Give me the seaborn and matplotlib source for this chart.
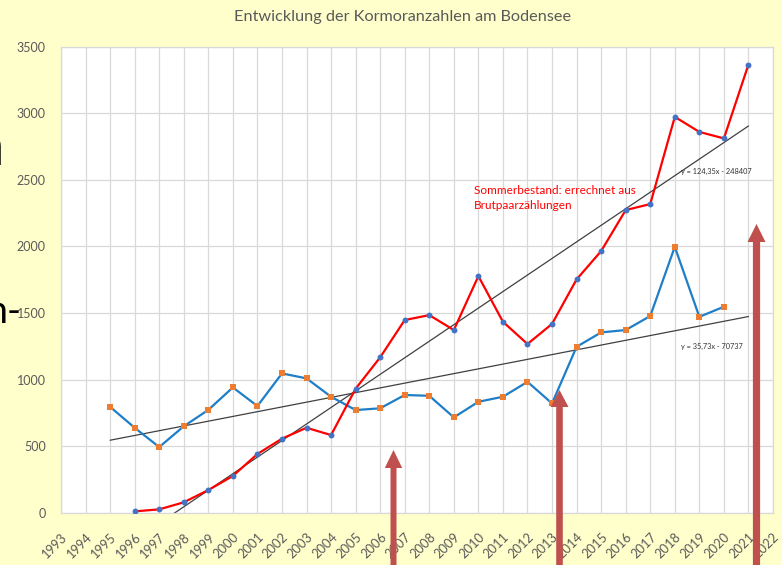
"""
Kormoran counts at Lake Constance (Bodensee), 1995-2021.

Two series (winter count, summer stock from breeding pairs) with
their linear trend lines and three highlight arrows.
"""

import matplotlib.pyplot as plt
import numpy as np
import pandas as pd
import seaborn as sns
from matplotlib.patches import Polygon

# ---------------------------------------------------------------- data
YEARS_AXIS = list(range(1993, 2023))

years_winter = list(range(1995, 2021))
winter = [795, 638, 493, 649, 772, 941, 801, 1046, 1009, 871, 771, 784, 884,
          878, 716, 833, 871, 983, 821, 1246, 1354, 1372, 1477, 1997, 1471, 1547]

years_summer = list(range(1996, 2022))
summer = [10, 25, 78, 170, 276, 441, 556, 638, 583, 931, 1167, 1447, 1484,
          1372, 1777, 1434, 1267, 1418, 1752, 1965, 2273, 2318, 2973, 2860,
          2811, 3366]

# trend lines as printed on the chart
trend_summer = {"slope": 124.35, "intercept": -248407, "years": [1996, 2021],
                "label": "y = 124,35x - 248407"}
trend_winter = {"slope": 35.73, "intercept": -70737, "years": [1995, 2021],
                "label": "y = 35,73x - 70737"}

TITLE = "Entwicklung der Kormoranzahlen am Bodensee"
NOTE = "Sommerbestand: errechnet aus\nBrutpaarzählungen"

# ---------------------------------------------------------------- style
W, H = 782, 565
BG = "#FFFFCC"
GRID = "#D9D9D9"
TEXT = "#595959"
BLUE = "#1F7EC8"
RED = "#FF0000"
ORANGE = "#ED7D31"
DOT = "#4472C4"
ARROW = "#C0504D"

sns.set_theme(style="whitegrid")
plt.rcParams["font.family"] = ["Lato", "DejaVu Sans"]

fig = plt.figure(figsize=(W / 100, H / 100), dpi=100, facecolor=BG)


def fx(px):
    return px / W


def fy(py):
    return 1 - py / H


ax = fig.add_axes([fx(61), fy(512.7), fx(773) - fx(61), fy(46.7) - fy(512.7)])
ax.set_facecolor("white")

df_w = pd.DataFrame({"year": years_winter, "count": winter})
df_s = pd.DataFrame({"year": years_summer, "count": summer})


def trend_frame(t):
    yrs = np.array(t["years"], dtype=float)
    return pd.DataFrame({"year": yrs, "count": t["slope"] * yrs + t["intercept"]})


sns.lineplot(data=trend_frame(trend_winter), x="year", y="count", ax=ax,
             color="#404040", linewidth=0.9, zorder=2)
sns.lineplot(data=trend_frame(trend_summer), x="year", y="count", ax=ax,
             color="#404040", linewidth=0.9, zorder=2)

sns.lineplot(data=df_w, x="year", y="count", ax=ax, color=BLUE,
             linewidth=1.6, zorder=3)
sns.scatterplot(data=df_w, x="year", y="count", ax=ax, color=ORANGE,
                marker="s", s=16, linewidth=0, zorder=4)
sns.lineplot(data=df_s, x="year", y="count", ax=ax, color=RED,
             linewidth=1.6, zorder=3)
sns.scatterplot(data=df_s, x="year", y="count", ax=ax, color=DOT,
                marker="o", s=18, linewidth=0, zorder=4)

ax.set_xlim(1993, 2022)
ax.set_ylim(0, 3500)
ax.set_xticks(YEARS_AXIS)
ax.set_xticklabels([str(y) for y in YEARS_AXIS], rotation=45, ha="right",
                   va="top", rotation_mode="anchor")
ax.set_yticks(range(0, 3501, 500))
ax.tick_params(axis="x", labelsize=9.3, colors=TEXT, length=0, pad=13)
ax.tick_params(axis="y", labelsize=9, colors=TEXT, length=0, pad=11)
ax.set_xlabel("")
ax.set_ylabel("")
ax.grid(True, color=GRID, linewidth=0.9)
for sp in ax.spines.values():
    sp.set_color(GRID)
    sp.set_linewidth(0.9)

# ---------------------------------------------------------------- texts
fig.text(fx(403), fy(17), TITLE, ha="center", va="center",
         fontsize=11.7, color=TEXT)
fig.text(fx(474), fy(198), NOTE, ha="left", va="center", fontsize=8.5,
         color=RED, linespacing=1.4)
fig.text(fx(681), fy(171), trend_summer["label"], ha="left", va="center",
         fontsize=5.3, color="#333333")
fig.text(fx(681), fy(346), trend_winter["label"], ha="left", va="center",
         fontsize=5.3, color="#333333")

# slide fragments at the left edge
fig.text(fx(4), fy(148), "n", ha="right", va="center", fontsize=42,
         color="black")
fig.text(fx(21), fy(312), "n-", ha="right", va="center", fontsize=27,
         color="black")


# ---------------------------------------------------------------- arrows
def up_arrow(cx, tip, base, head_half, shaft_half, bottom=H + 5):
    pts = [(cx, tip), (cx + head_half, base), (cx + shaft_half, base),
           (cx + shaft_half, bottom), (cx - shaft_half, bottom),
           (cx - shaft_half, base), (cx - head_half, base)]
    fig.add_artist(Polygon([(fx(x), fy(y)) for x, y in pts], closed=True,
                           transform=fig.transFigure, facecolor=ARROW,
                           edgecolor="none", zorder=10))


up_arrow(393.5, 450, 468, 8.7, 3.0)
up_arrow(559.5, 390, 407, 9.0, 3.3)
up_arrow(756.5, 224, 242, 9.0, 3.6)

fig.savefig("out.png", dpi=100, facecolor=BG)
